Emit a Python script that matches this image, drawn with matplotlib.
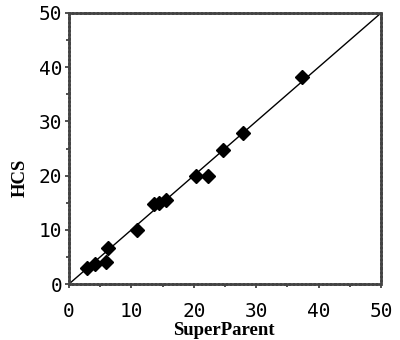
import numpy as np
import matplotlib.pyplot as plt
from matplotlib.ticker import MultipleLocator

superparent = [2.9, 4.1, 6.0, 6.2, 10.9, 13.6, 14.5, 15.5, 20.4, 22.2, 24.6, 27.9, 37.3]
hcs = [3.0, 3.6, 4.1, 6.6, 10.0, 14.7, 14.9, 15.5, 20.0, 20.0, 24.7, 27.9, 38.1]

fig = plt.figure(figsize=(4, 3.4), dpi=100)
ax = fig.add_axes([69/400, 1-284/340, 312/400, 271/340])

ax.plot([0, 50], [0, 50], color='k', lw=1.0)
ax.plot(superparent, hcs, 'D', color='k', markersize=7)

ax.set_xlim(0, 50)
ax.set_ylim(0, 50)
ax.xaxis.set_major_locator(MultipleLocator(10))
ax.yaxis.set_major_locator(MultipleLocator(10))
ax.xaxis.set_minor_locator(MultipleLocator(5))
ax.yaxis.set_minor_locator(MultipleLocator(5))
ax.tick_params(which='both', direction='out', width=1.2, colors='#333333',
               labelcolor='k')
ax.tick_params(which='major', length=3)
ax.tick_params(which='minor', length=2.5)
ax.tick_params(axis='x', which='major', pad=10)
ax.tick_params(axis='y', which='major', pad=2)
for lab in ax.get_xticklabels() + ax.get_yticklabels():
    lab.set_family('DejaVu Sans Mono')
    lab.set_fontsize(14)

for sp in ax.spines.values():
    sp.set_linewidth(2)
    sp.set_color('#444444')
    sp.set_linestyle((0, (1, 0.5)))

ax.set_xlabel('SuperParent', family='Liberation Serif', fontsize=13.5,
              fontweight='bold', va='baseline')
ax.xaxis.set_label_coords(0.495, -(335 - 284) / 271)
ax.set_ylabel('HCS', family='Liberation Serif', fontsize=13.5,
              fontweight='bold', va='center')
ax.yaxis.set_label_coords((20 - 69) / 312, (284 - 178) / 271)

fig.savefig('out.png')
